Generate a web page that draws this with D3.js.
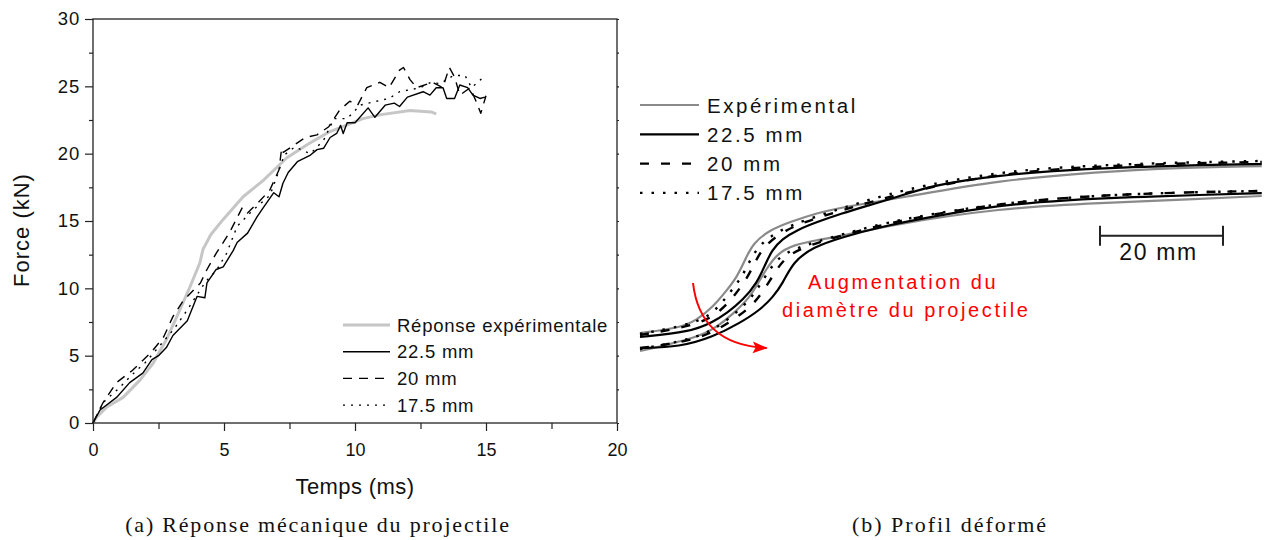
<!DOCTYPE html>
<html><head><meta charset="utf-8">
<script src="https://cdn.jsdelivr.net/npm/d3@7"></script>
<style>
body{margin:0;background:#fff}
svg{display:block}
text{font-family:"Liberation Sans",Arial,sans-serif;fill:#111}
</style>
</head><body>
<svg id="c" width="1264" height="540"></svg>
<script>
// ---------- (a) Force vs time ----------
const xTicksA = [0, 5, 10, 15, 20];
const yTicksA = [0, 5, 10, 15, 20, 25, 30];
const xLabelA = "Temps (ms)";
const yLabelA = "Force (kN)";
const captionA = "(a) Réponse mécanique du projectile";
const legendA = ["Réponse expérimentale", "22.5 mm", "20 mm", "17.5 mm"];

const expTime  = [0,0.15,0.53,1.15,1.8,2.3,2.8,3.2,3.7,4.08,4.2,4.5,4.96,5.73,6.49,7.4,8.2,9.0,10.3,11.0,12.1,12.9,13.1];
const expForce = [0,0.45,1.2,1.9,3.2,4.45,6.2,7.9,10.1,11.9,12.9,14.0,15.1,16.8,18.0,19.7,20.7,21.6,22.6,22.9,23.2,23.1,22.95];

const t225 = [0,0.27,0.9,1.4,1.9,2.25,2.5,2.8,3.05,3.6,3.97,4.27,4.35,4.7,4.97,5.35,5.5,5.9,6.26,6.5,6.9,7.1,7.25,7.45,7.8,8.3,8.55,8.8,9.05,9.3,9.45,9.55,9.7,10.0,10.5,10.76,11.15,11.5,11.7,12.0,12.6,12.86,13.1,13.36,13.5,13.8,14.0,14.3,14.5,14.77,14.96];
const f225 = [0,0.97,1.9,3.0,3.7,4.7,5.0,5.6,6.5,7.6,9.4,9.3,10.4,11.4,11.6,12.8,13.4,14.1,15.3,16.0,17.1,16.8,17.8,18.6,19.4,19.9,20.3,20.4,21.2,21.5,22.1,21.5,22.3,22.3,23.4,22.7,23.6,23.75,23.5,24.2,24.6,24.35,24.9,24.9,24.1,24.1,25.1,24.9,24.35,24.1,24.2];

const t20 = [0,0.38,0.9,1.5,2.2,2.7,3.05,3.45,4.1,4.35,4.7,5.2,5.7,5.9,6.37,6.75,7.1,7.2,7.26,7.65,8.1,8.55,9.0,9.4,9.8,10.1,10.45,10.95,11.3,11.7,11.85,12.1,12.35,12.95,13.35,13.6,13.8,14.0,14.4,14.65,14.8,15.0];
const f20 = [0,1.5,3.0,3.9,5.2,6.4,7.9,9.1,10.4,11.4,12.6,14.1,16.0,15.6,16.5,17.3,18.8,20.4,20.1,20.6,21.2,21.4,22.0,23.2,23.9,23.6,24.9,25.3,24.9,26.2,26.4,25.5,24.9,25.3,24.9,26.4,25.7,24.35,24.9,23.75,23.0,24.3];

const t175 = [0,0.4,1.0,1.5,2.0,2.4,3.1,3.6,4.3,4.7,5.1,5.5,6.1,6.75,7.0,7.3,7.7,8.3,8.8,9.2,9.7,10.2,10.6,11.3,11.7,12.5,12.9,13.25,13.75,14.2,14.45,14.8,14.96];
const f175 = [0,1.55,2.6,3.6,4.5,5.4,7.0,8.4,10.5,11.3,12.6,14.6,15.8,16.9,18.2,19.9,20.5,20.0,21.0,22.6,22.6,23.6,23.8,24.1,24.6,24.9,25.3,25.2,25.8,25.8,24.9,25.5,25.9];

// ---------- (b) deformed profiles (mm) ----------
const legendB = ["Expérimental", "22.5 mm", "20 mm", "17.5 mm"];
const captionB = "(b) Profil déformé";
const annotB = ["Augmentation du", "diamètre du projectile"];
const scaleBarLabel = "20 mm";
const scaleBarLen = 20;

const upperExp = [[0,4.39],[6.5,5.2],[9.27,6.5],[11.87,8.62],[14.15,11.38],[15.77,13.5],[17.07,16.26],[18.37,19.02],[21.14,21.14],[24.39,22.44],[28.78,23.9],[33.01,24.88],[42.28,26.34],[58.54,29.27],[74.8,30.57],[85.69,31.22],[101.1,31.54]];
const upper225 = [[0,3.74],[8.13,4.55],[11.87,6.18],[14.15,7.64],[16.75,9.76],[19.02,12.52],[20.33,15.45],[21.46,17.89],[23.09,19.67],[25.53,21.14],[28.78,22.44],[33.01,23.9],[36.26,24.88],[41.79,26.5],[47.64,28.46],[58.54,30.08],[69.43,30.89],[80.16,31.38],[91.06,31.71],[101.1,31.87]];
const upper20 = [[0,4.07],[9.76,5.69],[13.33,8.13],[15.45,10.57],[17.56,13.5],[18.86,16.26],[20.33,18.7],[23.58,21.14],[27.64,22.76],[33.01,24.39],[42.28,27.1],[58.54,30.41],[74.8,31.54],[91.06,32.03],[101.1,32.2]];
const upper175 = [[0,4.23],[9.76,6.02],[12.68,8.46],[14.8,11.22],[16.59,13.5],[17.89,16.26],[19.51,18.86],[22.76,21.14],[26.83,22.76],[33.01,24.72],[42.28,27.64],[58.54,30.73],[74.8,31.71],[91.06,32.2],[101.1,32.36]];
const lowerExp = [[0,1.46],[9.27,3.58],[12.52,5.37],[15.12,7.48],[17.89,10.24],[19.02,12.2],[20.65,14.96],[22.28,17.24],[24.88,18.7],[28.78,19.51],[33.66,20.33],[40.65,21.95],[58.54,24.72],[74.8,25.53],[91.06,26.18],[101.1,26.67]];
const lower225 = [[0,1.95],[6.5,2.11],[11.87,3.74],[16.26,6.02],[19.51,8.13],[21.63,10.24],[23.25,12.52],[24.88,15.93],[28.13,18.37],[33.01,20.0],[39.02,21.63],[47.15,23.25],[58.54,25.2],[69.43,26.02],[80.16,26.5],[91.06,26.83],[101.1,27.15]];
const lower20 = [[0,1.95],[9.76,3.25],[14.63,6.18],[17.89,8.46],[20.0,11.06],[21.95,14.31],[23.9,17.07],[27.64,18.7],[33.01,20.33],[42.28,22.76],[58.54,25.53],[74.8,26.83],[91.06,27.32],[101.1,27.48]];
const lower175 = [[0,1.79],[9.76,3.58],[13.82,6.18],[17.07,8.94],[19.02,11.38],[20.81,14.31],[22.76,17.07],[26.83,18.7],[33.01,20.49],[42.28,22.93],[58.54,25.53],[74.8,26.83],[91.06,27.32],[101.1,27.48]];

const svg = d3.select("#c");
const zip = (a, b) => a.map((v, i) => [v, b[i]]);

// ===== Panel (a) =====
const xL = d3.scaleLinear().domain([0, 20]).range([93, 617]);
const yL = d3.scaleLinear().domain([0, 30]).range([423, 19]);

const styleA = [
  {stroke: "#c6c6c6", w: 3, dash: null},
  {stroke: "#000", w: 1.4, dash: null},
  {stroke: "#000", w: 1.4, dash: "9,7"},
  {stroke: "#000", w: 1.4, dash: "2,6"}
];
const dataA = [zip(expTime, expForce), zip(t225, f225), zip(t20, f20), zip(t175, f175)];

const minorX = d3.range(0, 20.01, 2.5).filter(v => !xTicksA.includes(v));
const minorY = d3.range(0, 30.01, 2.5).filter(v => !yTicksA.includes(v));

const gx = svg.append("g").attr("transform", "translate(0,423)")
  .call(d3.axisBottom(xL).tickValues(xTicksA).tickSize(8).tickPadding(12).tickFormat(d3.format("d")));
svg.append("g").attr("transform", "translate(0,423)")
  .call(d3.axisBottom(xL).tickValues(minorX).tickSize(6).tickFormat(""));
const gy = svg.append("g").attr("transform", "translate(93,0)")
  .call(d3.axisLeft(yL).tickValues(yTicksA).tickSize(8).tickPadding(5).tickFormat(d3.format("d")));
svg.append("g").attr("transform", "translate(93,0)")
  .call(d3.axisLeft(yL).tickValues(minorY).tickSize(4).tickFormat(""));
svg.append("g").attr("transform", "translate(617,0)")
  .call(d3.axisRight(yL).tickValues(minorY.concat(yTicksA)).tickSize(2).tickFormat(""));
svg.selectAll(".domain").remove();
svg.selectAll(".tick line").attr("stroke", "#222").attr("stroke-width", 1.2);
gx.selectAll("text").style("font-size", "18px").attr("fill", "#111");
gy.selectAll("text").style("font-size", "18.5px").style("letter-spacing", "0.8px").attr("fill", "#111");

const lineA = d3.line().x(d => xL(d[0])).y(d => yL(d[1]));
dataA.forEach((d, i) => {
  svg.append("path").attr("d", lineA(d)).attr("fill", "none")
    .attr("stroke", styleA[i].stroke).attr("stroke-width", styleA[i].w)
    .attr("stroke-linejoin", "round")
    .attr("stroke-dasharray", styleA[i].dash);
});

svg.append("rect").attr("x", xL(0)).attr("y", yL(30))
  .attr("width", xL(20) - xL(0)).attr("height", yL(0) - yL(30))
  .attr("fill", "none").attr("stroke", "#222").attr("stroke-width", 1.3);

legendA.forEach((lab, i) => {
  const y = 325 + i * 26.7;
  svg.append("line").attr("x1", 343).attr("x2", 390).attr("y1", y).attr("y2", y)
    .attr("stroke", styleA[i].stroke).attr("stroke-width", styleA[i].w)
    .attr("stroke-dasharray", styleA[i].dash);
  svg.append("text").attr("x", 397).attr("y", y + 6.5).text(lab)
    .style("font-size", "18.5px").style("letter-spacing", "0.75px");
});

svg.append("text").attr("x", 355).attr("y", 494).attr("text-anchor", "middle")
  .style("font-size", "22px").style("letter-spacing", "0.4px").text(xLabelA);
svg.append("text").attr("transform", "translate(29,230) rotate(-90)").attr("text-anchor", "middle")
  .style("font-size", "22px").style("letter-spacing", "1px").text(yLabelA);

svg.append("text").attr("x", 318).attr("y", 532).attr("text-anchor", "middle")
  .style("font-family", '"Liberation Serif","Times New Roman",serif').style("font-size", "22px")
  .style("letter-spacing", "1.8px").text(captionA);

// ===== Panel (b) =====
const xR = d3.scaleLinear().domain([0, 100]).range([640, 1255]);
const yR = d3.scaleLinear().domain([0, 40]).range([360, 114]);

const styleB = [
  {stroke: "#8a8a8a", w: 2.2, dash: null},
  {stroke: "#000", w: 2.2, dash: null},
  {stroke: "#000", w: 2.4, dash: "9,12"},
  {stroke: "#000", w: 2.4, dash: "2.5,9"}
];
const curvesB = [[upperExp, lowerExp], [upper225, lower225], [upper20, lower20], [upper175, lower175]];
const lineB = d3.line().x(d => xR(d[0])).y(d => yR(d[1])).curve(d3.curveBasis);

svg.append("defs").append("clipPath").attr("id", "clipB")
  .append("rect").attr("x", 636).attr("y", 100).attr("width", 628).attr("height", 300);
const gB = svg.append("g").attr("clip-path", "url(#clipB)");
curvesB.forEach((pair, i) => {
  pair.forEach(d => {
    gB.append("path").attr("d", lineB(d)).attr("fill", "none")
      .attr("stroke", styleB[i].stroke).attr("stroke-width", styleB[i].w)
      .attr("stroke-dasharray", styleB[i].dash);
  });
});

legendB.forEach((lab, i) => {
  const y = 105 + i * 29.3;
  svg.append("line").attr("x1", 640).attr("x2", 699).attr("y1", y).attr("y2", y)
    .attr("stroke", styleB[i].stroke).attr("stroke-width", styleB[i].w)
    .attr("stroke-dasharray", styleB[i].dash);
  svg.append("text").attr("x", 707).attr("y", y + 7.5).text(lab)
    .style("font-size", "20.5px").style("letter-spacing", "2.6px");
});

const sbX0 = 74.8, sbY = 20.2;
const sb = svg.append("g").attr("stroke", "#222").attr("stroke-width", 2);
sb.append("line").attr("x1", xR(sbX0)).attr("x2", xR(sbX0 + scaleBarLen)).attr("y1", yR(sbY)).attr("y2", yR(sbY));
sb.append("line").attr("x1", xR(sbX0)).attr("x2", xR(sbX0)).attr("y1", yR(sbY) - 10).attr("y2", yR(sbY) + 10);
sb.append("line").attr("x1", xR(sbX0 + scaleBarLen)).attr("x2", xR(sbX0 + scaleBarLen)).attr("y1", yR(sbY) - 10).attr("y2", yR(sbY) + 10);
svg.append("text").attr("x", xR(sbX0 + scaleBarLen / 2) - 3).attr("y", 260).attr("text-anchor", "middle")
  .style("font-size", "23px").style("letter-spacing", "1.6px").text(scaleBarLabel);

const defs = svg.select("defs");
defs.append("marker").attr("id", "arr").attr("markerUnits", "userSpaceOnUse")
  .attr("markerWidth", 16).attr("markerHeight", 14).attr("refX", 14).attr("refY", 6)
  .attr("orient", "auto")
  .append("path").attr("d", "M0,0 L15,6 L0,12 L3,6 Z").attr("fill", "#ff0000");
const arrowPts = [[8.62, 12.52], [9.76, 2.44], [20.6, 1.95]];
const ap = d3.path();
ap.moveTo(xR(arrowPts[0][0]), yR(arrowPts[0][1]));
ap.quadraticCurveTo(xR(arrowPts[1][0]), yR(arrowPts[1][1]), xR(arrowPts[2][0]), yR(arrowPts[2][1]));
svg.append("path").attr("d", ap.toString()).attr("fill", "none").attr("stroke", "#ff0000")
  .attr("stroke-width", 2).attr("marker-end", "url(#arr)");

svg.append("text").attr("x", 808).attr("y", 289).style("fill", "#ff0000")
  .style("font-size", "20px").style("letter-spacing", "2.6px").text(annotB[0]);
svg.append("text").attr("x", 782).attr("y", 317).style("fill", "#ff0000")
  .style("font-size", "20px").style("letter-spacing", "2.6px").text(annotB[1]);

svg.append("text").attr("x", 950).attr("y", 532).attr("text-anchor", "middle")
  .style("font-family", '"Liberation Serif","Times New Roman",serif').style("font-size", "22px")
  .style("letter-spacing", "2px").text(captionB);
</script>
</body></html>
